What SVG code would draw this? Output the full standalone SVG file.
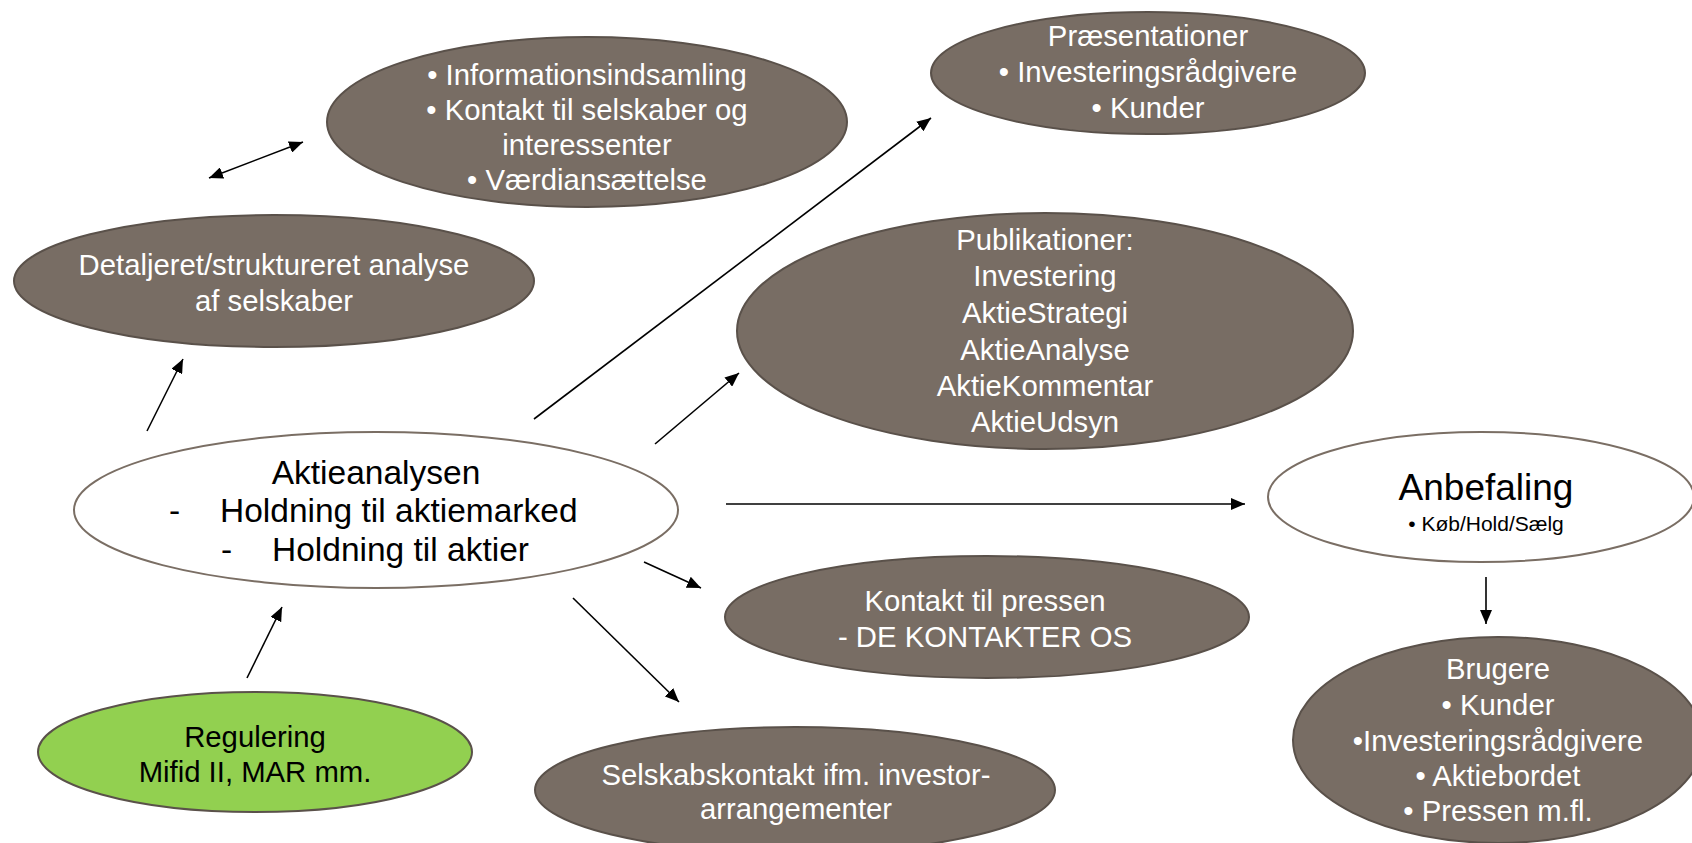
<svg xmlns="http://www.w3.org/2000/svg" width="1692" height="843" viewBox="0 0 1692 843">
<defs>
<marker id="ah" viewBox="0 0 14 12" refX="14" refY="6" markerWidth="14" markerHeight="12" markerUnits="userSpaceOnUse" orient="auto-start-reverse">
<path d="M0,0 L14,6 L0,12 z" fill="#000"/>
</marker>
<style>
.brown{fill:#786d64;stroke:#5a514a;stroke-width:2}
.white{fill:#ffffff;stroke:#7a6e64;stroke-width:2}
.green{fill:#92d050;stroke:#5a514a;stroke-width:2}
.wt{fill:#ffffff;font-family:"Liberation Sans",Arial,sans-serif;font-size:29.3px;text-anchor:middle}
.bt{fill:#000000;font-family:"Liberation Sans",Arial,sans-serif;font-size:29.3px;text-anchor:middle}
.conn line{stroke:#000;stroke-width:1.6;marker-end:url(#ah)}
</style>
</defs>
<rect width="1692" height="843" fill="#ffffff"/>

<g id="node-info">
<ellipse class="brown" cx="587" cy="122" rx="260" ry="85"/>
<text class="wt"><tspan x="587" y="85">• Informationsindsamling</tspan><tspan x="587" y="120">• Kontakt til selskaber og</tspan><tspan x="587" y="155">interessenter</tspan><tspan x="587" y="190">• Værdiansættelse</tspan></text>
</g>

<g id="node-praesentationer">
<ellipse class="brown" cx="1148" cy="73" rx="217" ry="61"/>
<text class="wt"><tspan x="1148" y="46">Præsentationer</tspan><tspan x="1148" y="82">• Investeringsrådgivere</tspan><tspan x="1148" y="118">• Kunder</tspan></text>
</g>

<g id="node-detaljeret">
<ellipse class="brown" cx="274" cy="281" rx="260" ry="66"/>
<text class="wt"><tspan x="274" y="275">Detaljeret/struktureret analyse</tspan><tspan x="274" y="311">af selskaber</tspan></text>
</g>

<g id="node-publikationer">
<ellipse class="brown" cx="1045" cy="331" rx="308" ry="118"/>
<text class="wt"><tspan x="1045" y="250">Publikationer:</tspan><tspan x="1045" y="286">Investering</tspan><tspan x="1045" y="323">AktieStrategi</tspan><tspan x="1045" y="360">AktieAnalyse</tspan><tspan x="1045" y="396">AktieKommentar</tspan><tspan x="1045" y="432">AktieUdsyn</tspan></text>
</g>

<g id="node-aktieanalysen">
<ellipse class="white" cx="376" cy="510" rx="302" ry="78"/>
<text class="bt" style="font-size:33.5px"><tspan x="376" y="484">Aktieanalysen</tspan></text>
<text class="bt" style="font-size:33.5px;text-anchor:start"><tspan x="169" y="522">-</tspan><tspan x="220" y="522">Holdning til aktiemarked</tspan><tspan x="221" y="561">-</tspan><tspan x="272" y="561">Holdning til aktier</tspan></text>
</g>

<g id="node-anbefaling">
<ellipse class="white" cx="1481" cy="497" rx="213" ry="65"/>
<text class="bt" style="font-size:37px"><tspan x="1486" y="500">Anbefaling</tspan></text>
<text class="bt" style="font-size:21px"><tspan x="1486" y="531">• Køb/Hold/Sælg</tspan></text>
</g>

<g id="node-kontakt">
<ellipse class="brown" cx="987" cy="617" rx="262" ry="61"/>
<text class="wt"><tspan x="985" y="611">Kontakt til pressen</tspan><tspan x="985" y="647">- DE KONTAKTER OS</tspan></text>
</g>

<g id="node-selskabskontakt">
<ellipse class="brown" cx="795" cy="790" rx="260" ry="63"/>
<text class="wt"><tspan x="796" y="785">Selskabskontakt ifm. investor-</tspan><tspan x="796" y="819">arrangementer</tspan></text>
</g>

<g id="node-regulering">
<ellipse class="green" cx="255" cy="752" rx="217" ry="60"/>
<text class="bt"><tspan x="255" y="747">Regulering</tspan><tspan x="255" y="782">Mifid II, MAR mm.</tspan></text>
</g>

<g id="node-brugere">
<ellipse class="brown" cx="1498" cy="740" rx="205" ry="103"/>
<text class="wt"><tspan x="1498" y="679">Brugere</tspan><tspan x="1498" y="715">• Kunder</tspan><tspan x="1498" y="751">•Investeringsrådgivere</tspan><tspan x="1498" y="786">• Aktiebordet</tspan><tspan x="1498" y="821">• Pressen m.fl.</tspan></text>
</g>

<g id="connectors" class="conn">
<line x1="209" y1="178" x2="303" y2="142" marker-start="url(#ah)"/>
<line x1="147" y1="431" x2="183" y2="359"/>
<line x1="534" y1="419" x2="931" y2="118"/>
<line x1="655" y1="444" x2="739" y2="373"/>
<line x1="726" y1="504" x2="1245" y2="504"/>
<line x1="644" y1="562" x2="701" y2="588"/>
<line x1="573" y1="598" x2="679" y2="702"/>
<line x1="247" y1="678" x2="282" y2="607"/>
<line x1="1486" y1="577" x2="1486" y2="624"/>
</g>
</svg>
